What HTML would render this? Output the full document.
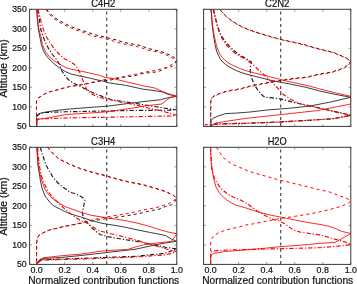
<!DOCTYPE html>
<html><head><meta charset="utf-8"><style>
html,body{margin:0;padding:0;background:#fff;}
body{width:357px;height:284px;overflow:hidden;}
svg{display:block;}
text{-webkit-font-smoothing:antialiased;}
svg{will-change:transform;}
</style></head><body>
<svg width="357" height="284" viewBox="0 0 357 284">
<rect width="357" height="284" fill="#fff"/>
<defs><filter id="bl" x="0" y="0" width="1" height="1" color-interpolation-filters="sRGB"><feGaussianBlur stdDeviation="0.35"/></filter></defs>
<g filter="url(#bl)">
<clipPath id="c1"><rect x="29.6" y="9.3" width="147.20" height="117.10"/></clipPath>
<clipPath id="c2"><rect x="203.6" y="9.3" width="147.20" height="117.10"/></clipPath>
<clipPath id="c3"><rect x="29.6" y="147.3" width="147.20" height="117.10"/></clipPath>
<clipPath id="c4"><rect x="203.6" y="147.3" width="147.20" height="117.10"/></clipPath>
<g clip-path="url(#c1)" fill="none" stroke-width="0.85" stroke-linejoin="round">
<line x1="106.70" y1="10.80" x2="106.70" y2="126.40" stroke="#404040" stroke-width="1.15" stroke-dasharray="3.1 3.1" stroke-dashoffset="-0.7"/>
<polyline points="36.8,9.3 37.4,20 38.5,30 39.7,36 41.3,44.4 43.4,50.8 46.6,56.1 50.8,60.8 55,64.5 60.6,68.7 65.8,71.8 71.1,74 77.2,75.4 88.4,77.8 99.6,80.4 104,81.3 107.2,82.6 114.6,83.7 125.3,85.3 136,87.6 142,89 152,90.3 162,91.8 168,94.3 176.8,96.2 168.8,97.6 160.4,99.7 142,101.8 128,103.5 107,106.2 90,107.4 66,109.3 54,110.8 45,112.2 39.9,113.3 37.4,114.8 36.6,117.3 36.6,126.4" stroke="#1a1a1a" stroke-width="0.85"  />
<polyline points="37.6,9.3 39.3,19.8 40.9,30 42.9,36 45.5,42.3 48.7,48.7 52.9,55 57.1,60.3 59.8,65 61.8,70.8 64.8,75.5 68.5,79.8 72.2,82.4 77.2,84.9 82.8,87.7 88.4,90.5 95.1,93.8 103,96.6 110,99.3 119.8,101 130,102.6 142,104.5 156.2,106.8 168,108.7 176.8,109.8 170,110.2 130,110.5 66,111.8 45,112.5 39.6,113.8 37,116 36.6,126.4" stroke="#1a1a1a" stroke-width="1.15" stroke-dasharray="4.4 1.9 1.2 1.9" />
<polyline points="46.5,9.3 48.7,12 53.1,16.4 58.2,20.1 63.3,22.6 69,25.6 74.5,27.9 80.4,30 86.5,31.9 92.4,34 98.7,35.7 104.6,36.9 110.5,38.6 116.6,39.9 122.5,42 128.4,43.2 134.7,44.5 140.5,45.5 146.9,48 153.3,49.8 159.2,51.2 165,52.8 170.4,55.4 174.6,57.6 176.8,60.5 175.5,63 172,66.5 165.6,68.1 159.2,71.3 153.3,72.4 147.5,72.9 141,73.8 134.9,75.7 123.2,77.3 111.5,79.8 106.1,80.5 99.6,81.2 92.9,82.6 85,84.2 77.2,85.6 70,86.4 63.2,88.3 56.2,90.3 50.1,91.8 45.1,93.8 41.1,96.2 38,98.2 36.5,101.2 36.5,126.4" stroke="#1a1a1a" stroke-width="1.0" stroke-dasharray="3.1 3.1" />
<polyline points="36.8,9.3 37.6,20 39,30 40.8,36 42.3,44.4 45.5,51.8 49.7,57.1 55,61.3 61.3,65 65.8,67.6 71.1,69.2 80,71 85,72 92,73.6 99.6,75.4 104,77 114.6,78.9 125.3,81.6 136,84 142,85.6 154.8,88 162,91.2 169,94 176.8,96.2 170.3,97.5 161.8,104 149,105.4 130,108.5 107,111.8 90,113 66,114.5 48,118 39,119.1 36.8,121 36.6,126.4" stroke="#ff0000" stroke-width="0.85"  />
<polyline points="38,9.3 40.6,19.8 43.5,30 46,36 49.7,42.3 55,49.7 60.3,55.5 64.5,58.7 68,60.5 70,61.5 74.6,64.5 77.7,68.4 80,73 82.4,79.2 84.7,84.6 87,90 91.6,93.9 97.8,97 102,97.9 119.8,101.9 130,103.7 149,108.2 164.6,111.7 176.8,115.3 170,116 130,116.8 66,118 45,118.8 37.8,119.1 36.6,121 36.6,126.4" stroke="#ff0000" stroke-width="1.15" stroke-dasharray="4.4 1.9 1.2 1.9" />
<polyline points="46,9.3 49.4,14.4 53.8,18.4 58.8,21.8 63.5,24.5 69.9,27.4 75.7,30 81.6,31.6 86.9,34 92.8,35.9 99,37.3 105.3,38.6 111.3,40.3 117.5,42.4 123.4,43.9 129.3,44.9 135.6,46.2 142.1,48 148,50.1 153.8,51.2 160.2,52.6 166.1,54.9 171.4,57.6 176.8,60.5 172,64.4 166.6,67.6 160.2,69.2 153.8,70.8 148,71.6 142.1,72.7 135.4,74.3 129.6,75.2 123.7,76.6 117.8,77.6 112,78.7 106,79.3 99.6,80.4 92.9,82.1 85,83.8 77.2,85.2 69.4,86.6 63.2,88.1 56.2,90.1 50.1,91.6 45.1,93.6 41.1,96.1 38,98.1 36.4,101.2 36.4,126.4" stroke="#ff0000" stroke-width="1.0" stroke-dasharray="3.1 3.1" />
</g>
<g stroke="#555" stroke-width="0.6">
<line x1="36.61" y1="126.40" x2="36.61" y2="124.10"/>
<line x1="36.61" y1="9.30" x2="36.61" y2="11.60"/>
<line x1="64.65" y1="126.40" x2="64.65" y2="124.10"/>
<line x1="64.65" y1="9.30" x2="64.65" y2="11.60"/>
<line x1="92.69" y1="126.40" x2="92.69" y2="124.10"/>
<line x1="92.69" y1="9.30" x2="92.69" y2="11.60"/>
<line x1="120.72" y1="126.40" x2="120.72" y2="124.10"/>
<line x1="120.72" y1="9.30" x2="120.72" y2="11.60"/>
<line x1="148.76" y1="126.40" x2="148.76" y2="124.10"/>
<line x1="148.76" y1="9.30" x2="148.76" y2="11.60"/>
<line x1="176.80" y1="126.40" x2="176.80" y2="124.10"/>
<line x1="176.80" y1="9.30" x2="176.80" y2="11.60"/>
<line x1="29.60" y1="126.40" x2="31.90" y2="126.40"/>
<line x1="176.80" y1="126.40" x2="174.50" y2="126.40"/>
<line x1="29.60" y1="106.88" x2="31.90" y2="106.88"/>
<line x1="176.80" y1="106.88" x2="174.50" y2="106.88"/>
<line x1="29.60" y1="87.37" x2="31.90" y2="87.37"/>
<line x1="176.80" y1="87.37" x2="174.50" y2="87.37"/>
<line x1="29.60" y1="67.85" x2="31.90" y2="67.85"/>
<line x1="176.80" y1="67.85" x2="174.50" y2="67.85"/>
<line x1="29.60" y1="48.33" x2="31.90" y2="48.33"/>
<line x1="176.80" y1="48.33" x2="174.50" y2="48.33"/>
<line x1="29.60" y1="28.82" x2="31.90" y2="28.82"/>
<line x1="176.80" y1="28.82" x2="174.50" y2="28.82"/>
<line x1="29.60" y1="9.30" x2="31.90" y2="9.30"/>
<line x1="176.80" y1="9.30" x2="174.50" y2="9.30"/>
</g>
<rect x="29.6" y="9.3" width="147.20" height="117.10" fill="none" stroke="#3a3a3a" stroke-width="1.0"/>
<text x="103.20" y="6.70" font-family="Liberation Sans, sans-serif" font-size="10.1" text-anchor="middle" textLength="24.0" lengthAdjust="spacingAndGlyphs" fill="#111" stroke="#111" stroke-width="0.2">C4H2</text>
<text x="26.70" y="129.10" font-family="Liberation Sans, sans-serif" font-size="9.0" text-anchor="end" textLength="9.7" lengthAdjust="spacingAndGlyphs" fill="#111" stroke="#111" stroke-width="0.2">50</text>
<text x="26.70" y="109.58" font-family="Liberation Sans, sans-serif" font-size="9.0" text-anchor="end" textLength="14.4" lengthAdjust="spacingAndGlyphs" fill="#111" stroke="#111" stroke-width="0.2">100</text>
<text x="26.70" y="90.07" font-family="Liberation Sans, sans-serif" font-size="9.0" text-anchor="end" textLength="14.4" lengthAdjust="spacingAndGlyphs" fill="#111" stroke="#111" stroke-width="0.2">150</text>
<text x="26.70" y="70.55" font-family="Liberation Sans, sans-serif" font-size="9.0" text-anchor="end" textLength="14.4" lengthAdjust="spacingAndGlyphs" fill="#111" stroke="#111" stroke-width="0.2">200</text>
<text x="26.70" y="51.03" font-family="Liberation Sans, sans-serif" font-size="9.0" text-anchor="end" textLength="14.4" lengthAdjust="spacingAndGlyphs" fill="#111" stroke="#111" stroke-width="0.2">250</text>
<text x="26.70" y="31.52" font-family="Liberation Sans, sans-serif" font-size="9.0" text-anchor="end" textLength="14.4" lengthAdjust="spacingAndGlyphs" fill="#111" stroke="#111" stroke-width="0.2">300</text>
<text x="26.70" y="12.00" font-family="Liberation Sans, sans-serif" font-size="9.0" text-anchor="end" textLength="14.4" lengthAdjust="spacingAndGlyphs" fill="#111" stroke="#111" stroke-width="0.2">350</text>
<text transform="translate(7.4,68.45) rotate(-90)" x="0" y="0" font-family="Liberation Sans, sans-serif" font-size="10.3" text-anchor="middle" textLength="58.3" lengthAdjust="spacingAndGlyphs" fill="#111" stroke="#111" stroke-width="0.2">Altitude (km)</text>
<g clip-path="url(#c2)" fill="none" stroke-width="0.85" stroke-linejoin="round">
<line x1="280.70" y1="10.80" x2="280.70" y2="126.40" stroke="#404040" stroke-width="1.15" stroke-dasharray="3.1 3.1" stroke-dashoffset="-0.7"/>
<polyline points="211.1,9.3 212.2,25 213.6,36 215,44.5 216.3,50 217.9,54.3 219.8,58 222.1,61.4 225.5,64.5 229.1,67 236.2,70.5 242,72.8 248,74.6 259.2,77.4 270.4,80.2 281.6,82.5 288,83.6 297.8,85.6 306,87.3 310,88.4 319.7,91 335,94.3 350.8,97.3 330.6,102 310,106 296,107.6 281,108.9 266,110.1 250,112 236,113.1 225.5,113.6 218,116 213,118.4 211.2,120.4 210.7,126.4" stroke="#1a1a1a" stroke-width="0.85"  />
<polyline points="213.3,9.3 215,17 217.3,26 219.3,32 221.4,36 225,41 229.1,45.9 233.5,50 237.6,53.6 242,56.3 248,59.6 251.4,62 250.6,66.4 250.2,70.7 251.4,77.4 253,81.5 254.7,85.3 257.5,89.6 260.3,93.1 262.5,95.5 265,97.2 272.4,97.9 281.2,99.1 290,101.4 298.8,103.5 306,104.9 311.5,106.2 330,110.5 350.8,115.3 340,117.5 332.2,118.8 310,120.2 278,122 245,123.2 220,123.8 212,124.3 210.8,126.4" stroke="#1a1a1a" stroke-width="1.15" stroke-dasharray="4.4 1.9 1.2 1.9" />
<polyline points="219.8,9.3 223,13.2 226.9,17 231.7,20.7 237.8,24.6 243.4,27.4 249,29.7 255.2,31.9 260.8,33.6 267.1,35.5 272.7,37.2 279.4,38.9 285,40.3 291.2,41.7 296.8,42.8 303,44.3 309,46.1 315.1,47.8 321.3,49.4 326.9,50.8 333.1,52.2 338.1,54.5 343,56.5 346.9,58.3 350.8,61.1 348.3,64.8 344.1,67.6 337.1,70.4 330.1,72.3 319.7,74 306,77.2 297.8,78 288,79.2 281.6,80.3 270.4,82 259.2,84.3 248,86.5 242.7,88.2 236.2,89.5 229.8,90.4 223.3,92.1 218.2,94 213,96.6 211.1,98.6 210.8,103 210.8,126.4" stroke="#1a1a1a" stroke-width="1.0" stroke-dasharray="3.1 3.1" />
<polyline points="211.1,9.3 212.5,25 214.3,36 216.5,45.9 218,50 220,54.3 222.3,57.5 224.9,60 228,62.7 231.9,64.9 236,66.8 240.4,68.7 248,71.3 259.2,74.1 270.4,76.9 281.6,79.7 288,81.4 297.8,83.5 310,86.2 319.7,88.9 337.1,93.3 350.8,96.3 350.8,104 317.4,110.6 310,111.4 276,115.1 245.7,118.4 223.8,121.7 215.1,123.2 211,126.4" stroke="#ff0000" stroke-width="0.85"  />
<polyline points="213.6,9.3 215.3,17 217.6,26 219.7,32 222.1,38.8 226,44.5 230.5,49.4 235,53.2 240.4,56.4 245,59 248,61 252.5,64 259.2,70.7 265.9,76.3 272.6,83 279.4,89.8 282.7,94 290,99.1 298.8,103.5 306,105.3 311.5,106.4 330,110.5 350.8,115.3 332.2,118.8 310,120.2 278,122.2 245,123.5 220,124.2 211,124.6 205,124.6" stroke="#ff0000" stroke-width="1.15" stroke-dasharray="4.4 1.9 1.2 1.9" />
<polyline points="220.1,9.7 223.3,13.6 227.2,17.4 232,21.1 238.1,25 243.7,27.8 249.3,30.1 255.5,32.3 261.1,34 267.4,35.9 273,37.6 279.7,39.3 285.3,40.7 291.5,42.1 297.1,43.2 303.3,44.7 309.3,46.5 315.4,48.2 321.6,49.8 327.2,51.2 333.4,52.6 338.4,54.9 343.3,56.9 347.2,58.7 351.1,61.5 348.6,65.2 344.4,68 337.4,70.8 330.4,72.7 320,74.4 306.3,77.6 298.1,78.4 288.3,79.6 281.9,80.7 270.7,82.4 259.5,84.7 248.3,86.9 243,88.6 236.5,89.9 230.1,90.8 223.6,92.5 218.5,94.4 213.3,97 210.9,99 210.6,103.4 210.6,126.8" stroke="#ff0000" stroke-width="1.0" stroke-dasharray="3.1 3.1" stroke-dashoffset="-1.7"/>
</g>
<g stroke="#555" stroke-width="0.6">
<line x1="210.61" y1="126.40" x2="210.61" y2="124.10"/>
<line x1="210.61" y1="9.30" x2="210.61" y2="11.60"/>
<line x1="238.65" y1="126.40" x2="238.65" y2="124.10"/>
<line x1="238.65" y1="9.30" x2="238.65" y2="11.60"/>
<line x1="266.69" y1="126.40" x2="266.69" y2="124.10"/>
<line x1="266.69" y1="9.30" x2="266.69" y2="11.60"/>
<line x1="294.72" y1="126.40" x2="294.72" y2="124.10"/>
<line x1="294.72" y1="9.30" x2="294.72" y2="11.60"/>
<line x1="322.76" y1="126.40" x2="322.76" y2="124.10"/>
<line x1="322.76" y1="9.30" x2="322.76" y2="11.60"/>
<line x1="350.80" y1="126.40" x2="350.80" y2="124.10"/>
<line x1="350.80" y1="9.30" x2="350.80" y2="11.60"/>
<line x1="203.60" y1="126.40" x2="205.90" y2="126.40"/>
<line x1="350.80" y1="126.40" x2="348.50" y2="126.40"/>
<line x1="203.60" y1="106.88" x2="205.90" y2="106.88"/>
<line x1="350.80" y1="106.88" x2="348.50" y2="106.88"/>
<line x1="203.60" y1="87.37" x2="205.90" y2="87.37"/>
<line x1="350.80" y1="87.37" x2="348.50" y2="87.37"/>
<line x1="203.60" y1="67.85" x2="205.90" y2="67.85"/>
<line x1="350.80" y1="67.85" x2="348.50" y2="67.85"/>
<line x1="203.60" y1="48.33" x2="205.90" y2="48.33"/>
<line x1="350.80" y1="48.33" x2="348.50" y2="48.33"/>
<line x1="203.60" y1="28.82" x2="205.90" y2="28.82"/>
<line x1="350.80" y1="28.82" x2="348.50" y2="28.82"/>
<line x1="203.60" y1="9.30" x2="205.90" y2="9.30"/>
<line x1="350.80" y1="9.30" x2="348.50" y2="9.30"/>
</g>
<rect x="203.6" y="9.3" width="147.20" height="117.10" fill="none" stroke="#3a3a3a" stroke-width="1.0"/>
<text x="277.20" y="6.70" font-family="Liberation Sans, sans-serif" font-size="10.1" text-anchor="middle" textLength="24.4" lengthAdjust="spacingAndGlyphs" fill="#111" stroke="#111" stroke-width="0.2">C2N2</text>
<g clip-path="url(#c3)" fill="none" stroke-width="0.85" stroke-linejoin="round">
<line x1="106.70" y1="148.80" x2="106.70" y2="264.40" stroke="#404040" stroke-width="1.15" stroke-dasharray="3.1 3.1" stroke-dashoffset="-0.7"/>
<polyline points="47.4,147 50.6,151 54.8,155.2 59,158.9 64.3,161.5 68.5,163.5 74.7,166.3 80.8,168.6 86.4,170.3 92.6,172.3 98.8,173.9 104.8,175.3 110.4,177 116.6,178.7 122.7,180.3 128.9,181.8 135.1,182.9 141.1,184.2 146,185.4 152.4,187.3 158.7,189.2 165,191.1 170.1,193.6 173.9,195.5 176.5,198.2 175.5,201 171.7,204.7 165.3,206.6 159,209.2 152.7,210.4 146.3,211.7 140,213.4 130.3,215.2 123.5,216.3 116.8,217.2 110.1,218.3 103.4,219.1 96,220.2 88.9,221.4 77.1,224.1 64,226.6 56.9,228.3 50.5,229.7 45,232 39.5,234.7 37.2,238.3 36.6,243 36.6,264.4" stroke="#1a1a1a" stroke-width="1.0" stroke-dasharray="3.1 3.1" />
<polyline points="36.9,147.3 37.6,160 38.2,167.3 39.1,172 40.3,180.1 42.2,189 45.4,196.6 50,202.4 53,205.5 60.6,209.3 64.8,211.5 71.1,214.1 81.7,217.3 91.2,220.5 102,223.3 123.8,226.9 136,229.6 150.8,232.6 165.6,235.5 171.5,239.2 176.8,241.4 165.6,242.9 150.8,245.9 136,249.1 102,253.1 80,255.6 60.8,257.5 44,258.4 39.8,259.8 37.5,262 36.6,264.4" stroke="#1a1a1a" stroke-width="0.85"  />
<polyline points="40.3,147.3 42.4,154.4 45.6,164 48.8,170.3 52,175.6 54.3,178.9 58,183 61.9,186.5 68.2,190.9 72,192.8 77.1,194.4 81,196.5 84,198.6 85,200.6 84,204 83.5,207.6 82.4,212 82.8,215.5 84.2,219.9 89.5,225.2 94.7,230.5 100,234.5 106,236.3 123.8,239.5 136,241.3 150.8,244.4 165.6,247.2 176.8,249 165,253.3 136,256.3 104,257.5 80,258.4 49.8,259.5 41.2,259.8 38.4,262.6 36.6,264.4" stroke="#1a1a1a" stroke-width="1.15" stroke-dasharray="4.4 1.9 1.2 1.9" />
<polyline points="36.9,147.3 37.8,160 39,170 41.6,180.1 44.8,189 49.2,195.3 52,198 55.5,200.6 60.6,204 65,206.5 71.1,208.8 81.7,212.5 86,213.8 91.2,215.3 102,217 115,219 125,220.5 136,222.8 146.4,225.5 158.2,229.2 168,232 176.8,233.8 171.5,241.4 158.2,242.9 145.7,244.4 136,246.8 128.2,249.3 102,251 80,254.2 60.8,255.8 44,257.7 40.5,259.1 37.7,261.9 36.5,264.4" stroke="#ff0000" stroke-width="0.85"  />
<polyline points="37.6,147.3 38.5,157 39.6,167 41.4,176 42.9,180.1 46.7,189 49,192.5 52.1,196.7 56,200.8 61,205.3 65.8,210 71.1,214.1 76.4,217.8 80.6,220.7 86,222.5 91.2,225.5 96,229 100,231 106,232.5 123.8,236.8 136,240 150.8,244.4 165.6,248.8 176.8,251.8 165.6,254.8 136,257 104,258.2 80,259.1 40.5,260.1 37.5,263 36.6,264.4" stroke="#ff0000" stroke-width="1.15" stroke-dasharray="4.4 1.9 1.2 1.9" />
<polyline points="48,147.6 51.2,151.6 55.4,155.8 59.6,159.5 64.9,162.1 69.1,164.1 75.3,166.9 81.4,169.2 87,170.9 93.2,172.9 99.4,174.5 105.4,175.9 111,177.6 117.2,179.3 123.3,180.9 129.5,182.4 135.7,183.5 141.7,184.8 146.6,186 153,187.9 159.3,189.8 165.6,191.7 170.7,194.2 174.5,196.1 177.1,198.8 173,200.9 167.9,204.1 161.5,206 155.2,207.9 148.9,208.9 142.5,210.2 140,210.8 131.4,212.8 124.6,214.1 117.9,215.1 111.2,216.2 104.5,217.3 100,218.2 88.9,220.8 77.1,223.8 64,226.4 56.9,228.2 50.5,229.6 45,231.9 39.5,234.6 37.2,238.3 36.6,243 36.6,264.4" stroke="#ff0000" stroke-width="1.0" stroke-dasharray="3.1 3.1" />
</g>
<g stroke="#555" stroke-width="0.6">
<line x1="36.61" y1="264.40" x2="36.61" y2="262.10"/>
<line x1="36.61" y1="147.30" x2="36.61" y2="149.60"/>
<line x1="64.65" y1="264.40" x2="64.65" y2="262.10"/>
<line x1="64.65" y1="147.30" x2="64.65" y2="149.60"/>
<line x1="92.69" y1="264.40" x2="92.69" y2="262.10"/>
<line x1="92.69" y1="147.30" x2="92.69" y2="149.60"/>
<line x1="120.72" y1="264.40" x2="120.72" y2="262.10"/>
<line x1="120.72" y1="147.30" x2="120.72" y2="149.60"/>
<line x1="148.76" y1="264.40" x2="148.76" y2="262.10"/>
<line x1="148.76" y1="147.30" x2="148.76" y2="149.60"/>
<line x1="176.80" y1="264.40" x2="176.80" y2="262.10"/>
<line x1="176.80" y1="147.30" x2="176.80" y2="149.60"/>
<line x1="29.60" y1="264.40" x2="31.90" y2="264.40"/>
<line x1="176.80" y1="264.40" x2="174.50" y2="264.40"/>
<line x1="29.60" y1="244.88" x2="31.90" y2="244.88"/>
<line x1="176.80" y1="244.88" x2="174.50" y2="244.88"/>
<line x1="29.60" y1="225.37" x2="31.90" y2="225.37"/>
<line x1="176.80" y1="225.37" x2="174.50" y2="225.37"/>
<line x1="29.60" y1="205.85" x2="31.90" y2="205.85"/>
<line x1="176.80" y1="205.85" x2="174.50" y2="205.85"/>
<line x1="29.60" y1="186.33" x2="31.90" y2="186.33"/>
<line x1="176.80" y1="186.33" x2="174.50" y2="186.33"/>
<line x1="29.60" y1="166.82" x2="31.90" y2="166.82"/>
<line x1="176.80" y1="166.82" x2="174.50" y2="166.82"/>
<line x1="29.60" y1="147.30" x2="31.90" y2="147.30"/>
<line x1="176.80" y1="147.30" x2="174.50" y2="147.30"/>
</g>
<rect x="29.6" y="147.3" width="147.20" height="117.10" fill="none" stroke="#3a3a3a" stroke-width="1.0"/>
<text x="103.20" y="144.70" font-family="Liberation Sans, sans-serif" font-size="10.1" text-anchor="middle" textLength="24.2" lengthAdjust="spacingAndGlyphs" fill="#111" stroke="#111" stroke-width="0.2">C3H4</text>
<text x="26.70" y="267.10" font-family="Liberation Sans, sans-serif" font-size="9.0" text-anchor="end" textLength="9.7" lengthAdjust="spacingAndGlyphs" fill="#111" stroke="#111" stroke-width="0.2">50</text>
<text x="26.70" y="247.58" font-family="Liberation Sans, sans-serif" font-size="9.0" text-anchor="end" textLength="14.4" lengthAdjust="spacingAndGlyphs" fill="#111" stroke="#111" stroke-width="0.2">100</text>
<text x="26.70" y="228.07" font-family="Liberation Sans, sans-serif" font-size="9.0" text-anchor="end" textLength="14.4" lengthAdjust="spacingAndGlyphs" fill="#111" stroke="#111" stroke-width="0.2">150</text>
<text x="26.70" y="208.55" font-family="Liberation Sans, sans-serif" font-size="9.0" text-anchor="end" textLength="14.4" lengthAdjust="spacingAndGlyphs" fill="#111" stroke="#111" stroke-width="0.2">200</text>
<text x="26.70" y="189.03" font-family="Liberation Sans, sans-serif" font-size="9.0" text-anchor="end" textLength="14.4" lengthAdjust="spacingAndGlyphs" fill="#111" stroke="#111" stroke-width="0.2">250</text>
<text x="26.70" y="169.52" font-family="Liberation Sans, sans-serif" font-size="9.0" text-anchor="end" textLength="14.4" lengthAdjust="spacingAndGlyphs" fill="#111" stroke="#111" stroke-width="0.2">300</text>
<text x="26.70" y="150.00" font-family="Liberation Sans, sans-serif" font-size="9.0" text-anchor="end" textLength="14.4" lengthAdjust="spacingAndGlyphs" fill="#111" stroke="#111" stroke-width="0.2">350</text>
<text transform="translate(7.4,206.45) rotate(-90)" x="0" y="0" font-family="Liberation Sans, sans-serif" font-size="10.3" text-anchor="middle" textLength="58.3" lengthAdjust="spacingAndGlyphs" fill="#111" stroke="#111" stroke-width="0.2">Altitude (km)</text>
<text x="36.61" y="272.90" font-family="Liberation Sans, sans-serif" font-size="9.0" text-anchor="middle" textLength="12.3" lengthAdjust="spacingAndGlyphs" fill="#111" stroke="#111" stroke-width="0.2">0.0</text>
<text x="64.65" y="272.90" font-family="Liberation Sans, sans-serif" font-size="9.0" text-anchor="middle" textLength="12.3" lengthAdjust="spacingAndGlyphs" fill="#111" stroke="#111" stroke-width="0.2">0.2</text>
<text x="92.69" y="272.90" font-family="Liberation Sans, sans-serif" font-size="9.0" text-anchor="middle" textLength="12.3" lengthAdjust="spacingAndGlyphs" fill="#111" stroke="#111" stroke-width="0.2">0.4</text>
<text x="120.72" y="272.90" font-family="Liberation Sans, sans-serif" font-size="9.0" text-anchor="middle" textLength="12.3" lengthAdjust="spacingAndGlyphs" fill="#111" stroke="#111" stroke-width="0.2">0.6</text>
<text x="148.76" y="272.90" font-family="Liberation Sans, sans-serif" font-size="9.0" text-anchor="middle" textLength="12.3" lengthAdjust="spacingAndGlyphs" fill="#111" stroke="#111" stroke-width="0.2">0.8</text>
<text x="176.80" y="272.90" font-family="Liberation Sans, sans-serif" font-size="9.0" text-anchor="middle" textLength="12.3" lengthAdjust="spacingAndGlyphs" fill="#111" stroke="#111" stroke-width="0.2">1.0</text>
<text x="103.70" y="283.9" font-family="Liberation Sans, sans-serif" font-size="10.2" text-anchor="middle" textLength="151" lengthAdjust="spacingAndGlyphs" fill="#111" stroke="#111" stroke-width="0.2">Normalized contribution functions</text>
<g clip-path="url(#c4)" fill="none" stroke-width="0.85" stroke-linejoin="round">
<line x1="280.70" y1="148.80" x2="280.70" y2="264.40" stroke="#404040" stroke-width="1.15" stroke-dasharray="3.1 3.1" stroke-dashoffset="-0.7"/>
<polyline points="210.5,147.3 211,160 211.6,167.3 212.3,170 213.7,178.5 215.9,186.9 218,190.5 220.1,193.9 223.5,197.3 227.1,200.3 234.2,204.5 246,208 253.6,210.4 261,212.7 271.2,215.3 280.5,217 295.6,220.2 308.8,222.6 322,224.8 328.4,226.2 335,228.3 341.5,231.3 350.8,233.5 343,238 335,242.4 320,243.3 308.8,244.5 295,245.6 280,246.7 265,248.2 250,249.6 223.8,251.6 218.1,252.7 212.9,253.5 211.5,255 210.7,256.2 210.7,264.4" stroke="#ff0000" stroke-width="0.85"  />
<polyline points="210.5,147.3 211.3,160 212,170 214.5,178.5 216.5,182 218.7,185.5 222,189.3 225.7,192.5 229.5,195.2 234.2,197.5 240,199.8 244.4,202 248.5,204.5 253.6,208.3 258,211.5 262.4,213.8 267,216.5 271.5,219 278.8,220.8 284.7,223.7 289,227 293.5,230 300,232 308.8,233.4 322,235.2 330.6,237.9 345.9,242.2 350.8,244.4 345,245.5 319.7,247.7 276,248.8 245.7,249.5 219.5,250.3 212.4,251.3 210.7,252.7 210.7,264.4" stroke="#ff0000" stroke-width="1.15" stroke-dasharray="4.4 1.9 1.2 1.9" />
<polyline points="216.4,147.3 219.5,152 222.8,157.2 228.4,161.7 234,165 239.6,167.3 246,170.1 253.1,172.6 265,176 276.5,179.3 297.3,184.3 318.6,189.6 329.2,191.8 339.9,196 346,198 350.8,200.5 348.4,203.5 341.5,206.2 330,209.5 319.7,211.8 312.4,213.4 295.6,216.2 278.8,218.7 262,222.1 253.6,223.8 245.7,225 240,226.8 232,228.6 225.1,230.2 218.1,233 213.8,235.8 211.3,239.5 210.7,243 210.7,264.4" stroke="#ff0000" stroke-width="1.0" stroke-dasharray="3.1 3.1" />
</g>
<g stroke="#555" stroke-width="0.6">
<line x1="210.61" y1="264.40" x2="210.61" y2="262.10"/>
<line x1="210.61" y1="147.30" x2="210.61" y2="149.60"/>
<line x1="238.65" y1="264.40" x2="238.65" y2="262.10"/>
<line x1="238.65" y1="147.30" x2="238.65" y2="149.60"/>
<line x1="266.69" y1="264.40" x2="266.69" y2="262.10"/>
<line x1="266.69" y1="147.30" x2="266.69" y2="149.60"/>
<line x1="294.72" y1="264.40" x2="294.72" y2="262.10"/>
<line x1="294.72" y1="147.30" x2="294.72" y2="149.60"/>
<line x1="322.76" y1="264.40" x2="322.76" y2="262.10"/>
<line x1="322.76" y1="147.30" x2="322.76" y2="149.60"/>
<line x1="350.80" y1="264.40" x2="350.80" y2="262.10"/>
<line x1="350.80" y1="147.30" x2="350.80" y2="149.60"/>
<line x1="203.60" y1="264.40" x2="205.90" y2="264.40"/>
<line x1="350.80" y1="264.40" x2="348.50" y2="264.40"/>
<line x1="203.60" y1="244.88" x2="205.90" y2="244.88"/>
<line x1="350.80" y1="244.88" x2="348.50" y2="244.88"/>
<line x1="203.60" y1="225.37" x2="205.90" y2="225.37"/>
<line x1="350.80" y1="225.37" x2="348.50" y2="225.37"/>
<line x1="203.60" y1="205.85" x2="205.90" y2="205.85"/>
<line x1="350.80" y1="205.85" x2="348.50" y2="205.85"/>
<line x1="203.60" y1="186.33" x2="205.90" y2="186.33"/>
<line x1="350.80" y1="186.33" x2="348.50" y2="186.33"/>
<line x1="203.60" y1="166.82" x2="205.90" y2="166.82"/>
<line x1="350.80" y1="166.82" x2="348.50" y2="166.82"/>
<line x1="203.60" y1="147.30" x2="205.90" y2="147.30"/>
<line x1="350.80" y1="147.30" x2="348.50" y2="147.30"/>
</g>
<rect x="203.6" y="147.3" width="147.20" height="117.10" fill="none" stroke="#3a3a3a" stroke-width="1.0"/>
<text x="277.20" y="144.70" font-family="Liberation Sans, sans-serif" font-size="10.1" text-anchor="middle" textLength="19.0" lengthAdjust="spacingAndGlyphs" fill="#111" stroke="#111" stroke-width="0.2">H2O</text>
<text x="210.61" y="272.90" font-family="Liberation Sans, sans-serif" font-size="9.0" text-anchor="middle" textLength="12.3" lengthAdjust="spacingAndGlyphs" fill="#111" stroke="#111" stroke-width="0.2">0.0</text>
<text x="238.65" y="272.90" font-family="Liberation Sans, sans-serif" font-size="9.0" text-anchor="middle" textLength="12.3" lengthAdjust="spacingAndGlyphs" fill="#111" stroke="#111" stroke-width="0.2">0.2</text>
<text x="266.69" y="272.90" font-family="Liberation Sans, sans-serif" font-size="9.0" text-anchor="middle" textLength="12.3" lengthAdjust="spacingAndGlyphs" fill="#111" stroke="#111" stroke-width="0.2">0.4</text>
<text x="294.72" y="272.90" font-family="Liberation Sans, sans-serif" font-size="9.0" text-anchor="middle" textLength="12.3" lengthAdjust="spacingAndGlyphs" fill="#111" stroke="#111" stroke-width="0.2">0.6</text>
<text x="322.76" y="272.90" font-family="Liberation Sans, sans-serif" font-size="9.0" text-anchor="middle" textLength="12.3" lengthAdjust="spacingAndGlyphs" fill="#111" stroke="#111" stroke-width="0.2">0.8</text>
<text x="350.80" y="272.90" font-family="Liberation Sans, sans-serif" font-size="9.0" text-anchor="middle" textLength="12.3" lengthAdjust="spacingAndGlyphs" fill="#111" stroke="#111" stroke-width="0.2">1.0</text>
<text x="277.70" y="283.9" font-family="Liberation Sans, sans-serif" font-size="10.2" text-anchor="middle" textLength="151" lengthAdjust="spacingAndGlyphs" fill="#111" stroke="#111" stroke-width="0.2">Normalized contribution functions</text>
</g>
</svg>
</body></html>
